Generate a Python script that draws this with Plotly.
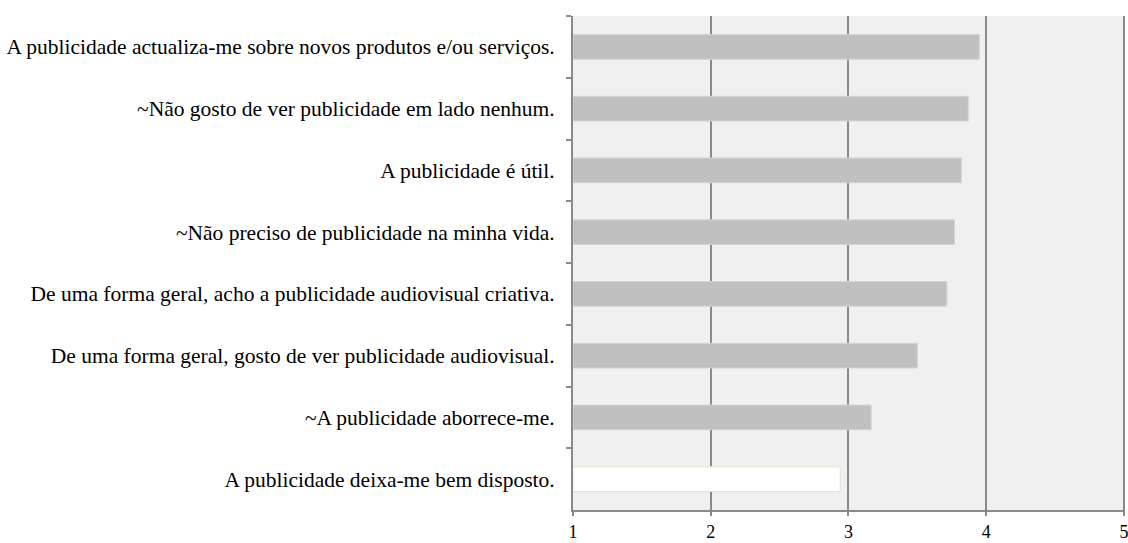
import plotly.graph_objects as go

categories = [
    "A publicidade actualiza-me sobre novos produtos e/ou serviços.",
    "~Não gosto de ver publicidade em lado nenhum.",
    "A publicidade é útil.",
    "~Não preciso de publicidade na minha vida.",
    "De uma forma geral, acho a publicidade audiovisual criativa.",
    "De uma forma geral, gosto de ver publicidade audiovisual.",
    "~A publicidade aborrece-me.",
    "A publicidade deixa-me bem disposto.",
]
values = [3.95, 3.87, 3.82, 3.77, 3.715, 3.50, 3.165, 2.94]
fill_colors = ["#c0c0c0"] * 7 + ["#ffffff"]
line_colors = ["#d4d4d4"] * 7 + ["#e8e2cc"]

x_ticks = [1, 2, 3, 4, 5]

fig = go.Figure(go.Bar(
    y=categories,
    x=[v - 1 for v in values],
    base=1,
    orientation="h",
    marker=dict(color=fill_colors, line=dict(color=line_colors, width=1)),
    hoverinfo="skip",
))

fig.update_layout(
    width=1128, height=543,
    margin=dict(l=573, r=3, t=16, b=33),
    plot_bgcolor="#f0f0f0",
    paper_bgcolor="#ffffff",
    bargap=0.6,
    showlegend=False,
    font=dict(family="Times New Roman, Liberation Serif, serif", size=21.5, color="#000000"),
)
fig.update_xaxes(
    range=[1, 5.008], tickvals=x_ticks, ticktext=[str(t) for t in x_ticks],
    showgrid=True, gridcolor="#8a8a8a", gridwidth=2,
    showline=True, linecolor="#8a8a8a", linewidth=2,
    ticks="outside", ticklen=4, tickcolor="#8a8a8a", tickwidth=2,
    zeroline=False, fixedrange=True, automargin=False,
    ticklabeloverflow="allow", tickfont=dict(size=18),
)
fig.update_yaxes(
    categoryorder="array", categoryarray=categories,
    autorange="reversed",
    showgrid=False,
    showline=True, linecolor="#8a8a8a", linewidth=2,
    ticks="outside", ticklen=5, tickcolor="#8a8a8a", tickwidth=2,
    tickson="boundaries", ticklabelstandoff=12,
    fixedrange=True, automargin=False,
)

fig.write_html(
    "out.html",
    config={"displayModeBar": False},
    post_script="document.body.style.margin='0';",
)
